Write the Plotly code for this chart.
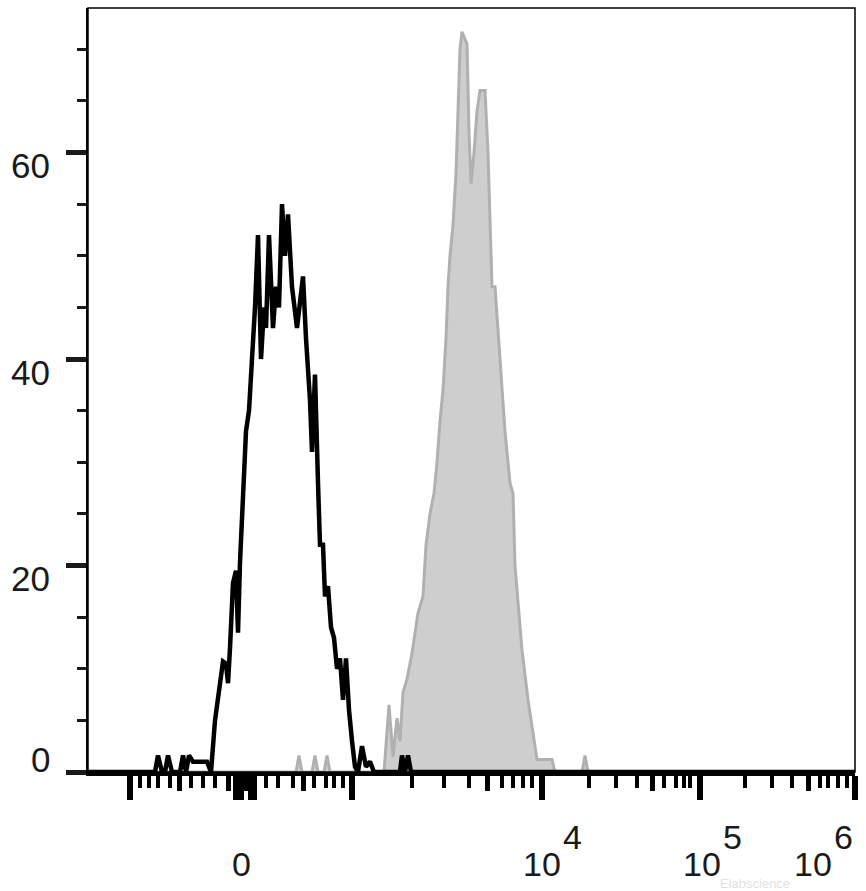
import plotly.graph_objects as go

# Display-channel x scale (biexponential display units, 0..767)
black_x = [0, 67, 70, 74, 77, 80, 84, 92, 95, 98, 101, 105, 119, 123, 127, 131, 135, 138, 140, 142,
           145, 148, 150, 152, 155, 158, 161, 164, 167, 170, 173, 176, 178, 181, 185, 188, 191, 194,
           197, 200, 204, 209, 212, 215, 218, 222, 224, 227, 230, 232, 235, 237, 240, 243, 246, 249,
           252, 255, 258, 261, 264, 267, 270, 274, 278, 282, 286, 312, 314, 317, 320, 323, 767]
black_y = [0, 0, 1.6, 0, 0, 1.6, 0, 0, 1.6, 0, 1.6, 1, 1, 0, 5, 8, 10.7, 10.5, 8.6, 12,
           18.3, 19.5, 13.5, 20.3, 28, 33, 35, 40, 45, 52, 40, 45, 43, 52, 43, 47, 45, 55,
           50, 54, 47, 43, 46, 48, 42, 36, 31, 38.5, 28, 22, 22, 17, 18, 14, 13, 10,
           11, 7, 11, 6, 3, 0.5, 0, 2.5, 0.5, 1, 0, 0, 1.6, 0, 1.6, 0, 0]

grey_x = [0, 208, 211, 214, 224, 227, 230, 236, 239, 242, 296, 301, 305, 309, 312, 315, 319, 324,
          330, 335, 338, 342, 346, 349, 352, 355, 358, 360, 362, 365, 368, 370, 372, 374, 377, 379,
          381, 383, 386, 389, 392, 397, 400, 402, 404, 407, 412, 417, 422, 425, 427, 430, 434, 440,
          447, 449, 464, 467, 494, 497, 500, 767]
grey_y = [0, 0, 1.6, 0, 0, 1.6, 0, 0, 1.6, 0, 0, 6.5, 1.5, 5.2, 3, 7.7, 9, 11.5,
          15.4, 17, 22, 25, 27, 30, 34, 37, 42, 47, 50, 53, 58, 64, 70, 71.7, 71, 70.5,
          62, 57, 60, 64, 66, 66, 60, 53.5, 47, 47, 40, 33, 28, 27, 20, 16.7, 11.8, 7,
          2.1, 1.2, 1.2, 0, 0, 1.6, 0, 0]

# x-axis tick positions (display channels)
x_major_ticks = [42, 148, 152, 153, 163, 166, 264, 454, 612, 766.5]
x_mid_ticks = [91, 140, 157, 215, 399, 564, 720]
x_minor_ticks = [52, 61, 70, 82, 103, 115, 127, 178, 190, 205, 226, 238, 246, 255, 324, 356, 381,
                 414, 425, 435, 444, 501, 528, 549, 576, 588, 596, 602, 657, 684, 704, 732, 740,
                 750, 759]

# x tick labels: (channel of base, base text, channel of exponent, exponent text)
x_labels = [(153, "0", None, None), (453.5, "10", 484.5, "4"), (613.5, "10", 644.5, "5"),
            (724.5, "10", 755, "6")]

y_major = [0, 20, 40, 60]
y_labels = ["0", "20", "40", "60"]

FONT = "Liberation Sans, Arial, sans-serif"

fig = go.Figure()
fig.add_trace(go.Scatter(x=grey_x, y=grey_y, mode="lines", fill="tozeroy",
                         fillcolor="rgb(206,206,206)",
                         line=dict(color="rgb(176,176,176)", width=3),
                         hoverinfo="skip", showlegend=False))
fig.add_trace(go.Scatter(x=black_x, y=black_y, mode="lines",
                         line=dict(color="black", width=4.5),
                         hoverinfo="skip", showlegend=False))
fig.add_trace(go.Scatter(x=[0], y=[0], xaxis="x2", mode="markers",
                         marker=dict(opacity=0), hoverinfo="skip", showlegend=False))

fig.update_layout(
    width=866, height=891,
    margin=dict(l=88, r=11, t=8, b=119),
    paper_bgcolor="white", plot_bgcolor="white",
    font=dict(family=FONT, size=34, color="#1a1a1a"),
    xaxis=dict(range=[0, 767], showgrid=False, zeroline=False,
               showline=True, linecolor="black", linewidth=4,
               tickmode="array", tickvals=x_major_ticks, showticklabels=False,
               ticks="outside", ticklen=24, tickwidth=6, tickcolor="black",
               minor=dict(tickmode="array", tickvals=x_minor_ticks, ticks="outside",
                          ticklen=12, tickwidth=3.5, tickcolor="black", showgrid=False)),
    xaxis2=dict(range=[0, 767], overlaying="x", matches="x", anchor="y", side="bottom",
                showgrid=False, zeroline=False, showline=False,
                tickmode="array", tickvals=x_mid_ticks, showticklabels=False,
                ticks="outside", ticklen=18, tickwidth=5, tickcolor="black"),
    yaxis=dict(range=[0, 74], showgrid=False, zeroline=False,
               showline=True, linecolor="black", linewidth=1.5,
               tickmode="array", tickvals=y_major, showticklabels=False,
               ticks="outside", ticklen=20, tickwidth=5, tickcolor="#1a1a1a",
               minor=dict(dtick=5, tick0=0, ticks="outside", ticklen=9, tickwidth=3,
                          tickcolor="#1a1a1a", showgrid=False)),
)

fig.add_shape(type="rect", xref="paper", yref="paper", x0=0, x1=1, y0=0, y1=1,
              line=dict(color="black", width=1.5), layer="above")

for v, t in zip(y_major, y_labels):
    fig.add_annotation(x=-0.047, xref="paper", y=v, yref="y", text=t, showarrow=False,
                       xanchor="right", yanchor="middle", yshift=(13 if v == 0 else -13),
                       font=dict(family=FONT, size=35, color="#1a1a1a"))

for bx, bt, ex, et in x_labels:
    fig.add_annotation(x=bx, xref="x", y=-0.121, yref="paper", text=bt, showarrow=False,
                       xanchor="center", yanchor="middle",
                       font=dict(family=FONT, size=34, color="#1a1a1a"))
    if et:
        fig.add_annotation(x=ex, xref="x", y=-0.085, yref="paper", text=et, showarrow=False,
                           xanchor="center", yanchor="middle",
                           font=dict(family=FONT, size=34, color="#1a1a1a"))

fig.add_annotation(x=0.870, xref="paper", y=-0.146, yref="paper", text="Elabscience",
                   showarrow=False, xanchor="center", yanchor="middle",
                   font=dict(family=FONT, size=13, color="rgba(205,205,205,0.6)"))

fig.write_html("out.html", config={"displayModeBar": False},
               post_script="document.body.style.margin='0';document.body.style.overflow='hidden';")
